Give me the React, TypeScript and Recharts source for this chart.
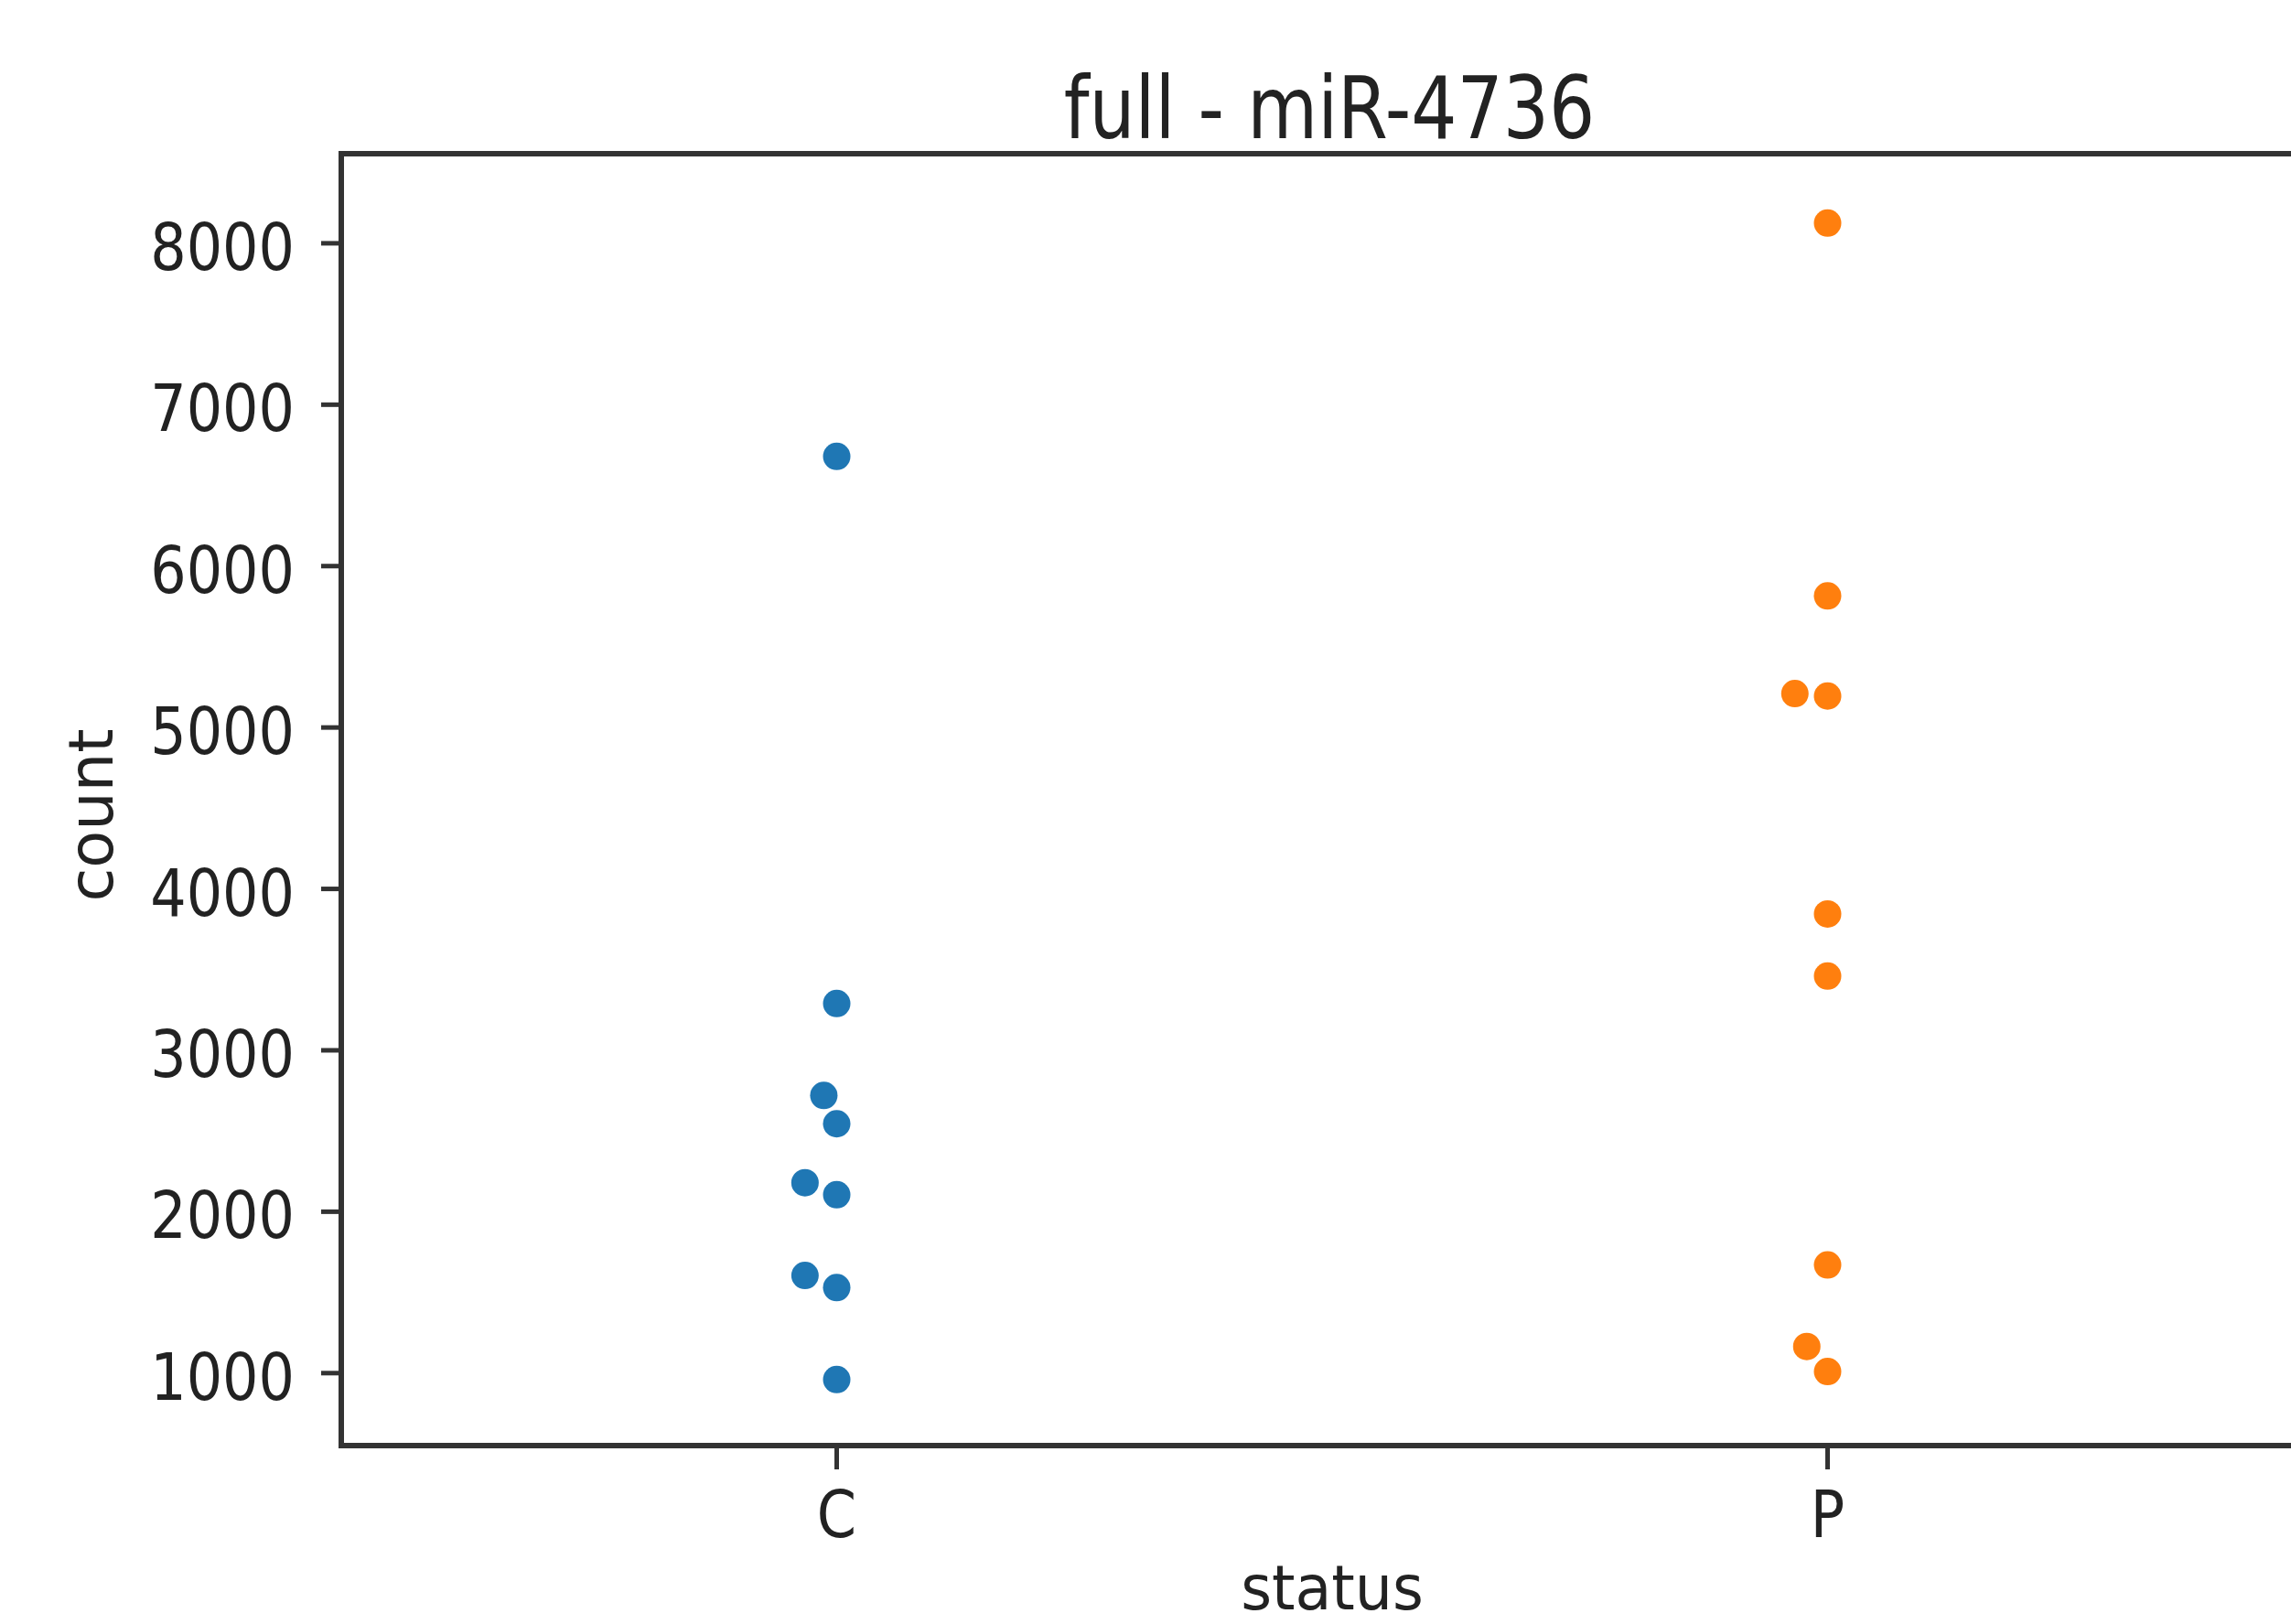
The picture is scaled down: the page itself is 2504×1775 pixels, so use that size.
import { ScatterChart, Scatter, XAxis, YAxis, ReferenceArea } from "recharts"

const categories = ["C", "P"]
const yTicks = [1000, 2000, 3000, 4000, 5000, 6000, 7000, 8000]

// counts per status
const cCounts = [6680, 3290, 2720, 2545, 2180, 2105, 1605, 1530, 960]
const cSwarm = [0, 0, -0.013, 0, -0.032, 0, -0.032, 0, 0]
const pCounts = [8125, 5815, 5210, 5195, 3845, 3460, 1670, 1165, 1010]
const pSwarm = [0, 0, -0.033, 0, 0, 0, 0, -0.021, 0]

const yDomain = [551, 8555]
const xDomain = [-0.5, 1.5]

const cData = cCounts.map((v, i) => ({ x: 0 + cSwarm[i], y: v }))
const pData = pCounts.map((v, i) => ({ x: 1 + pSwarm[i], y: v }))

const font = "DejaVu Sans"
const ink = "#222"

const YTick = ({ x, y, payload }: any) => (
  <g transform={`translate(${x},${y + 29}) scale(1,1.15)`}>
    <text x={0} y={0} textAnchor="end" fontSize={62} fontFamily={font} fill={ink}>
      {payload.value}
    </text>
  </g>
)

const XTick = ({ x, y, payload }: any) => (
  <g transform={`translate(${x},${y + 74}) scale(1,1.15)`}>
    <text x={0} y={0} textAnchor="middle" fontSize={62} fontFamily={font} fill={ink}>
      {categories[payload.value]}
    </text>
  </g>
)

const dot = (color: string) => (p: any) => <circle cx={p.cx} cy={p.cy} r={15} fill={color} />

export default function App() {
  return (
    <div style={{ position: "absolute", left: 0, top: 0, width: 2504, height: 1775, overflow: "hidden", background: "#fff" }}>
      <ScatterChart width={2600} height={1775} margin={{ top: 168, right: 61, bottom: 0, left: 0 }}>
        <XAxis
          type="number"
          dataKey="x"
          domain={xDomain}
          ticks={[0, 1]}
          allowDataOverflow
          axisLine={false}
          tickSize={26}
          tickMargin={0}
          tickLine={{ stroke: "#333", strokeWidth: 5 }}
          tick={<XTick />}
          height={195}
        />
        <YAxis
          type="number"
          dataKey="y"
          domain={yDomain}
          ticks={yTicks}
          allowDataOverflow
          axisLine={false}
          tickSize={22}
          tickMargin={29}
          tickLine={{ stroke: "#333", strokeWidth: 5 }}
          tick={<YTick />}
          width={373}
        />
        <ReferenceArea x1={xDomain[0]} x2={xDomain[1]} y1={yDomain[0]} y2={yDomain[1]} fill="none" stroke="#333" strokeWidth={6} fillOpacity={0} />
        <Scatter data={cData} fill="#1f77b4" shape={dot("#1f77b4")} isAnimationActive={false} />
        <Scatter data={pData} fill="#ff7f0e" shape={dot("#ff7f0e")} isAnimationActive={false} />
      </ScatterChart>
      <svg width={2504} height={1775} style={{ position: "absolute", left: 0, top: 0, pointerEvents: "none" }}>
        <g transform="translate(1453,151) scale(1,1.2)">
          <text x={0} y={0} textAnchor="middle" fontSize={79} fontFamily={font} fill={ink}>full - miR-4736</text>
        </g>
        <g transform="translate(1456,1759) scale(1,1.05)">
          <text x={0} y={0} textAnchor="middle" fontSize={65} fontFamily={font} fill={ink}>status</text>
        </g>
        <g transform="translate(123,891) rotate(-90)">
          <text x={0} y={0} textAnchor="middle" fontSize={67} fontFamily={font} fill={ink}>count</text>
        </g>
      </svg>
    </div>
  )
}
